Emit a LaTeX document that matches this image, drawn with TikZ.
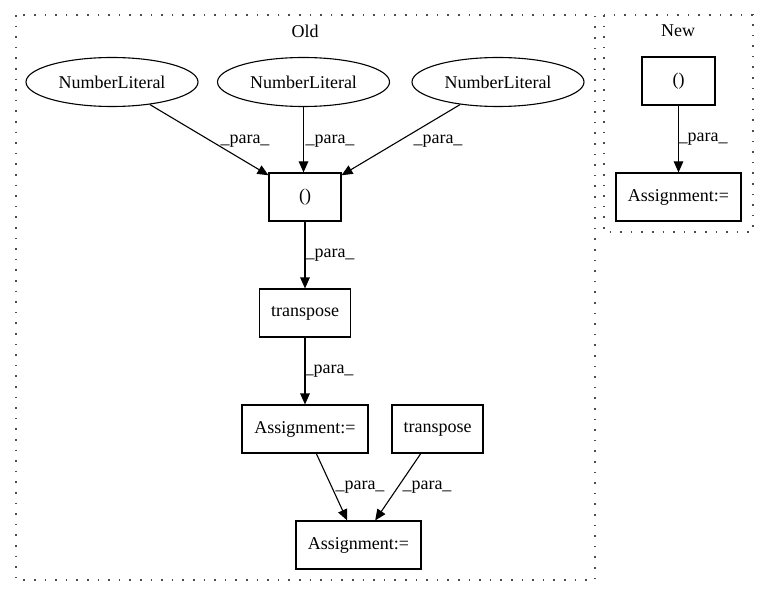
\documentclass[tikz,border=0pt]{standalone}
\usepackage{fontspec}
\setmainfont{Liberation Serif}
\usetikzlibrary{shapes.geometric,arrows.meta}
\begin{document}
\begin{tikzpicture}[x=1pt,y=-1pt,
  every node/.style={font=\fontsize{18}{20}\selectfont},
  ell/.style={draw,ellipse,line width=1.1pt,inner sep=0pt,minimum width=172pt,minimum height=49pt},
  boxn/.style={draw,rectangle,line width=1.1pt,inner sep=0pt,minimum height=48pt},
  cluster/.style={draw,line width=1.2pt,dash pattern=on 1.6pt off 9pt,gray!60!black},
  edge/.style={line width=1.1pt,-{Triangle[length=11pt,width=9.5pt]}},
  lab/.style={inner sep=0pt}]
\useasboundingbox (0,0) rectangle (768,596);
% clusters
\draw[cluster] (16,15) rectangle (595,580);
\draw[cluster] (604,15) rectangle (753,232);
\node (oldlab) at (305,31) {Old};
\node (newlab) at (678,31) {New};
% Old nodes
\node[ell] (n1) at (112,82) {NumberLiteral};
\node[ell] (n2) at (303.5,82) {NumberLiteral};
\node[ell] (n3) at (498,82) {NumberLiteral};
\node[boxn,minimum width=72pt] (tup) at (305,197) {()};
\node[boxn,minimum width=91pt] (tr1) at (305,313) {transpose};
\node[boxn,minimum width=126pt] (as1) at (305,429) {Assignment:=};
\node[boxn,minimum width=91pt] (tr2) at (437.5,429) {transpose};
\node[boxn,minimum width=125pt] (as2) at (358.5,545) {Assignment:=};
% New nodes
\node[boxn,minimum width=73pt] (ntup) at (678.5,81) {()};
\node[boxn,minimum width=125pt] (nas) at (678.5,197) {Assignment:=};
% edges
\draw[edge] (n1) -- (tup);
\draw[edge] (n2.south) -- (tup.north -| n2.south);
\draw[edge] (n3) -- (tup);
\draw[edge] (tup) -- (tr1);
\draw[edge] (tr1) -- (as1);
\draw[edge] (as1) -- (as2);
\draw[edge] (tr2) -- (as2);
\draw[edge] (ntup) -- (nas);
% edge labels
\node[lab] (l1) at (245,141) {\_para\_};
\node[lab] (l2) at (330,141) {\_para\_};
\node[lab] (l3) at (438,141) {\_para\_};
\node[lab] (l4) at (330,255) {\_para\_};
\node[lab] (l5) at (329,371) {\_para\_};
\node[lab] (l6) at (360,487) {\_para\_};
\node[lab] (l7) at (427,487) {\_para\_};
\node[lab] (l8) at (703,139) {\_para\_};
\end{tikzpicture}
\end{document}
